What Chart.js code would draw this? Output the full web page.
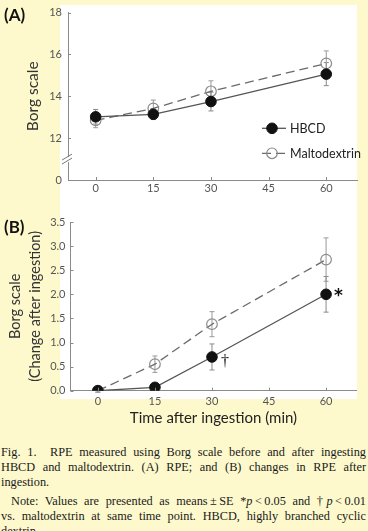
<!DOCTYPE html>
<html>
<head>
<meta charset="utf-8">
<script src="https://cdn.jsdelivr.net/npm/chart.js@4.4.1/dist/chart.umd.min.js"></script>
<style>
  html, body { margin: 0; padding: 0; background: #fdf9cc; }
  body { width: 368px; height: 531px; position: relative; overflow: hidden; }
  #paper { position: absolute; left: 60px; top: 5px; width: 297px; height: 394px; background: #fff; }
  canvas { position: absolute; left: 0; }
  #cA { top: 0; }
  #cB { top: 200px; }
  .plab { position: absolute; left: 4px; font: bold 17px Lato, sans-serif; color: #111; line-height: 20px; }
  #cap { position: absolute; left: 1px; top: 445px; width: 365px; font: 12.3px/14.8px "Liberation Serif", serif; color: #1a1a1a; }
  #cap span { display: block; text-align: justify; text-align-last: justify; white-space: nowrap; }
  #cap span.end { text-align-last: left; }
  #cap span.ind { text-indent: 10px; margin-top: 4.8px; }
</style>
</head>
<body>
<div id="paper"></div>
<canvas id="cA" width="368" height="200"></canvas>
<canvas id="cB" width="368" height="230"></canvas>
<div class="plab" style="top:5px">(A)</div>
<div class="plab" style="top:217px">(B)</div>
<div id="cap">
  <span>Fig. 1.&nbsp; RPE measured using Borg scale before and after ingesting</span>
  <span>HBCD and maltodextrin. (A) RPE; and (B) changes in RPE after</span>
  <span class="end">ingestion.</span>
  <span class="ind">Note: Values are presented as means&#8201;±&#8201;SE *<i>p</i>&#8201;&lt;&#8201;0.05 and †<i>p</i>&#8201;&lt;&#8201;0.01</span>
  <span>vs. maltodextrin at same time point. HBCD, highly branched cyclic</span>
  <span class="end">dextrin.</span>
</div>
<script>
// time points (min)
const times = [0, 15, 30, 60];
const xTicks = [0, 15, 30, 45, 60];

// (A) RPE, Borg scale, means and SE
const rpeHBCD = [13.02, 13.14, 13.75, 15.06];
const rpeHBCDse = [0.35, 0.25, 0.45, 0.55];
const rpeMalto = [12.85, 13.42, 14.24, 15.57];
const rpeMaltoSe = [0.35, 0.4, 0.5, 0.6];
// broken axis: the bottom tick (10) is labelled 0
const yTicksA = [10, 12, 14, 16, 18];
const yTickLabelsA = ['0', '12', '14', '16', '18'];

// (B) change after ingestion
const dHBCD = [0, 0.07, 0.7, 2.0];
const dHBCDse = [0.03, 0.05, 0.27, 0.37];
const dMalto = [0, 0.55, 1.38, 2.72];
const dMaltoSe = [0.03, 0.17, 0.26, 0.45];

const labels = ['HBCD', 'Maltodextrin'];

Chart.defaults.font.family = 'Lato, sans-serif';
Chart.defaults.color = '#555';

const pts = (vals) => vals.map((v, i) => ({ x: times[i], y: v }));

const hbcdStyle = { borderColor: '#555', borderWidth: 1.3, pointRadius: 5.3, pointHoverRadius: 5.3,
  pointBackgroundColor: '#111', pointBorderColor: '#111', pointBorderWidth: 1, tension: 0 };
const maltoStyle = { borderColor: '#6a6a6a', borderWidth: 1.3, borderDash: [9, 5], pointRadius: 5.3, pointHoverRadius: 5.3,
  pointBackgroundColor: 'rgba(0,0,0,0)', pointBorderColor: '#8a8a8a', pointBorderWidth: 1.2, tension: 0 };

// error bars drawn behind the markers
const errorBars = {
  id: 'errorBars',
  beforeDatasetsDraw(chart, args, opts) {
    const { ctx, scales: { x, y } } = chart;
    chart.data.datasets.forEach((ds, d) => {
      const se = opts.errors[d];
      ctx.save();
      ctx.strokeStyle = opts.colors[d];
      ctx.lineWidth = 1;
      ds.data.forEach((p, i) => {
        const px = x.getPixelForValue(p.x);
        const t = y.getPixelForValue(p.y + se[i]);
        const b = y.getPixelForValue(p.y - se[i]);
        ctx.beginPath();
        ctx.moveTo(px, t); ctx.lineTo(px, b);
        ctx.moveTo(px - 2.5, t); ctx.lineTo(px + 2.5, t);
        ctx.moveTo(px - 2.5, b); ctx.lineTo(px + 2.5, b);
        ctx.stroke();
      });
      ctx.restore();
    });
  }
};

// small inward tick marks, optional axis break, legend and significance marks
const extras = {
  id: 'extras',
  afterDraw(chart, args, opts) {
    const { ctx, scales: { x, y }, chartArea: ca } = chart;
    ctx.save();
    ctx.strokeStyle = '#8a8a8a';
    ctx.lineWidth = 1;
    ctx.beginPath();
    x.ticks.forEach(t => { const px = Math.round(x.getPixelForValue(t.value)) + 0.5; ctx.moveTo(px, ca.bottom); ctx.lineTo(px, ca.bottom - 3); });
    y.ticks.forEach(t => { const py = Math.round(y.getPixelForValue(t.value)) + 0.5; ctx.moveTo(ca.left, py); ctx.lineTo(ca.left + 3, py); });
    ctx.stroke();

    if (opts.breakAt !== undefined) {
      const by = y.getPixelForValue(opts.breakAt);
      ctx.fillStyle = '#fff';
      ctx.fillRect(ca.left - 2, by - 2, 4, 5);
      ctx.strokeStyle = '#777';
      ctx.beginPath();
      ctx.moveTo(ca.left - 6, by + 1); ctx.lineTo(ca.left + 4, by - 5);
      ctx.moveTo(ca.left - 6, by + 5); ctx.lineTo(ca.left + 4, by - 1);
      ctx.stroke();
    }

    if (opts.legend) {
      const lg = opts.legend;
      chart.data.datasets.forEach((ds, d) => {
        const lx = ca.left + lg.dx, ly = lg.y[d];
        ctx.strokeStyle = ds.borderColor;
        ctx.lineWidth = ds.borderWidth;
        ctx.setLineDash(ds.borderDash || []);
        ctx.beginPath(); ctx.moveTo(lx, ly); ctx.lineTo(lx + 24, ly); ctx.stroke();
        ctx.setLineDash([]);
        ctx.beginPath(); ctx.arc(lx + 10, ly, 5.3, 0, Math.PI * 2);
        ctx.fillStyle = ds.pointBackgroundColor; ctx.fill();
        ctx.lineWidth = ds.pointBorderWidth; ctx.strokeStyle = ds.pointBorderColor; ctx.stroke();
        ctx.fillStyle = '#222';
        ctx.font = '12.5px Lato, sans-serif';
        ctx.textBaseline = 'middle';
        ctx.fillText(ds.label, lx + 28, ly + 0.5);
      });
    }

    (opts.marks || []).forEach(m => {
      const el = chart.getDatasetMeta(m.ds).data[m.i];
      ctx.fillStyle = '#111';
      ctx.font = m.font;
      ctx.textBaseline = 'middle';
      ctx.fillText(m.text, el.x + m.dx, el.y + m.dy);
    });
    ctx.restore();
  }
};

function xScale(width, pad, title) {
  return {
    type: 'linear', min: -7.2, max: 68,
    afterBuildTicks: s => { s.ticks = xTicks.map(v => ({ value: v })); },
    afterFit: s => { s.height = width; },
    grid: { display: false, drawTicks: false },
    border: { display: true, color: '#8a8a8a', width: 1 },
    ticks: { color: '#555', font: { size: 11 }, padding: pad },
    title: title
  };
}

new Chart(document.getElementById('cA'), {
  type: 'line',
  data: { datasets: [
    { label: labels[0], data: pts(rpeHBCD), ...hbcdStyle },
    { label: labels[1], data: pts(rpeMalto), ...maltoStyle }
  ] },
  options: {
    responsive: false, animation: false, events: [],
    layout: { padding: { left: 0, top: 10.7, right: 11, bottom: 0 } },
    scales: {
      x: xScale(20, 1.5),
      y: {
        type: 'linear', min: 10, max: 18,
        afterBuildTicks: s => { s.ticks = yTicksA.map(v => ({ value: v })); },
        afterFit: s => { s.width = 68; },
        grid: { display: false, drawTicks: false },
        border: { display: true, color: '#8a8a8a', width: 1 },
        ticks: { color: '#555', font: { size: 11 }, padding: 6, callback: (v, i) => yTickLabelsA[i] },
        title: { display: true, text: 'Borg scale', color: '#333', font: { size: 15.5 }, padding: { top: 24, bottom: 0 } }
      }
    },
    plugins: {
      legend: { display: false }, tooltip: { enabled: false },
      errorBars: { errors: [rpeHBCDse, rpeMaltoSe], colors: ['#888', '#999'] },
      extras: { breakAt: 11, legend: { dx: 194, y: [128.3, 153.3] } }
    }
  },
  plugins: [errorBars, extras]
});

new Chart(document.getElementById('cB'), {
  type: 'line',
  data: { datasets: [
    { label: labels[0], data: pts(dHBCD), ...hbcdStyle },
    { label: labels[1], data: pts(dMalto), ...maltoStyle }
  ] },
  options: {
    responsive: false, animation: false, events: [],
    layout: { padding: { left: 0, top: 22, right: 11.5, bottom: 0 } },
    scales: {
      x: xScale(39.3, 4, { display: true, text: 'Time after ingestion (min)', color: '#222', font: { size: 15 }, padding: { top: 0, bottom: 3 } }),
      y: {
        type: 'linear', min: 0, max: 3.5,
        ticks: { stepSize: 0.5, color: '#555', font: { size: 11 }, padding: 5, callback: v => v.toFixed(1) },
        afterFit: s => { s.width = 70.5; },
        grid: { display: false, drawTicks: false },
        border: { display: true, color: '#8a8a8a', width: 1 },
        title: { display: true, text: ['Borg scale', '(Change after ingestion)'], color: '#333',
          font: { size: 14.5, lineHeight: 1.38 }, padding: { top: 5, bottom: 0 } }
      }
    },
    plugins: {
      legend: { display: false }, tooltip: { enabled: false },
      errorBars: { errors: [dHBCDse, dMaltoSe], colors: ['#888', '#999'] },
      extras: { marks: [
        { ds: 0, i: 3, text: '*', dx: 8, dy: 2, font: 'bold 17px "DejaVu Sans", sans-serif' },
        { ds: 0, i: 2, text: '†', dx: 9, dy: 5, font: '16px "Liberation Serif", serif' }
      ] }
    }
  },
  plugins: [errorBars, extras]
});
</script>
</body>
</html>
